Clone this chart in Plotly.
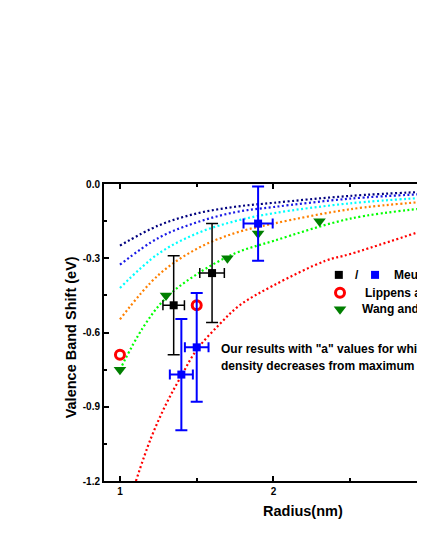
import plotly.graph_objects as go

# ---- data ----
curve_x = [1.0, 1.25, 1.5, 1.75, 2.0, 2.5, 3.0]
navy_y = [-0.249, -0.168, -0.119, -0.092, -0.076, -0.048, -0.031]
blue_y = [-0.326, -0.218, -0.155, -0.114, -0.093, -0.059, -0.040]
cyan_y = [-0.42, -0.282, -0.200, -0.150, -0.118, -0.078, -0.055]
orange_y = [-0.547, -0.368, -0.262, -0.198, -0.160, -0.102, -0.071]
green_x = [1.0, 1.15, 1.3, 1.5, 1.75, 2.0, 2.5, 3.0]
green_y = [-0.75, -0.58, -0.46, -0.365, -0.28, -0.23, -0.14, -0.097]
red_x = [1.104, 1.2, 1.3, 1.4, 1.5, 1.65, 1.78, 2.0, 2.34, 2.5, 3.0]
red_y = [-1.2, -1.03, -0.89, -0.775, -0.67, -0.566, -0.49, -0.41, -0.31, -0.283, -0.183]

black_x = [1.35, 1.6]
black_y = [-0.49, -0.36]
black_ey = [0.2, 0.2]
black_ex = [0.07, 0.08]

blue_x = [1.4, 1.5, 1.9]
blue_pts_y = [-0.77, -0.66, -0.16]
blue_ey = [0.225, 0.22, 0.15]
blue_ex = [0.075, 0.077, 0.095]

lippens_x = [1.0, 1.5]
lippens_y = [-0.69, -0.49]

wang_x = [1.0, 1.3, 1.7, 1.9, 2.3]
wang_y = [-0.75, -0.45, -0.30, -0.20, -0.15]

legend_labels = ["Meulenkamp", "Lippens and Weller", "Wang and Herron"]
y_ticks = [0.0, -0.3, -0.6, -0.9, -1.2]
y_ticktext = ["0.0", "-0.3", "-0.6", "-0.9", "-1.2"]
x_ticks = [1, 2, 3]

FONT = "Liberation Sans, Arial, sans-serif"

fig = go.Figure()

dash = "2px,2.5px"
for ys, col in [(navy_y, "#00007F"), (blue_y, "#1A1AE6"), (cyan_y, "#00FFFF"),
                (orange_y, "#FF8000")]:
    fig.add_trace(go.Scatter(x=curve_x, y=ys, mode="lines",
                             line=dict(color=col, width=2.2, dash=dash, shape="spline"),
                             showlegend=False, hoverinfo="skip"))
fig.add_trace(go.Scatter(x=green_x, y=green_y, mode="lines",
                         line=dict(color="#00FF00", width=2.2, dash=dash, shape="spline"),
                         showlegend=False))
fig.add_trace(go.Scatter(x=red_x, y=red_y, mode="lines",
                         line=dict(color="#FF0000", width=2.2, dash=dash, shape="spline"),
                         showlegend=False))

# Wang and Herron
fig.add_trace(go.Scatter(x=wang_x, y=wang_y, mode="markers",
                         marker=dict(symbol="triangle-down", size=11, color="#007F00"),
                         showlegend=False))
# Lippens
fig.add_trace(go.Scatter(x=lippens_x, y=lippens_y, mode="markers",
                         marker=dict(symbol="circle-open", size=9, color="#FF0000",
                                     line=dict(width=3, color="#FF0000")),
                         showlegend=False))
# black
fig.add_trace(go.Scatter(x=black_x, y=black_y, mode="markers",
                         marker=dict(symbol="square", size=8, color="black"),
                         error_y=dict(type="data", array=black_ey, color="black", thickness=1.5, width=6),
                         error_x=dict(type="data", array=black_ex, color="black", thickness=1.5, width=5),
                         showlegend=False))
# blue
fig.add_trace(go.Scatter(x=blue_x, y=blue_pts_y, mode="markers",
                         marker=dict(symbol="square", size=8, color="#0000FF"),
                         error_y=dict(type="data", array=blue_ey, color="#0000FF", thickness=2, width=6),
                         error_x=dict(type="data", array=blue_ex, color="#0000FF", thickness=2, width=5),
                         showlegend=False))

# legend markers on overlay axis
fig.add_trace(go.Scatter(x=[0.590], y=[0.694], xaxis="x2", yaxis="y2", mode="markers",
                         marker=dict(symbol="square", size=8, color="black"), showlegend=False))
fig.add_trace(go.Scatter(x=[0.681], y=[0.694], xaxis="x2", yaxis="y2", mode="markers",
                         marker=dict(symbol="square", size=8, color="#0000FF"), showlegend=False))
fig.add_trace(go.Scatter(x=[0.593], y=[0.634], xaxis="x2", yaxis="y2", mode="markers",
                         marker=dict(symbol="circle-open", size=9, color="#FF0000",
                                     line=dict(width=3, color="#FF0000")), showlegend=False))
fig.add_trace(go.Scatter(x=[0.593], y=[0.578], xaxis="x2", yaxis="y2", mode="markers",
                         marker=dict(symbol="triangle-down", size=11, color="#007F00"), showlegend=False))

annos = [
    dict(x=0.636, y=0.694, text="/", xanchor="center"),
    dict(x=0.723, y=0.694, text=legend_labels[0], xanchor="left"),
    dict(x=0.651, y=0.634, text=legend_labels[1], xanchor="left"),
    dict(x=0.643, y=0.578, text=legend_labels[2], xanchor="left"),
    dict(x=0.289, y=0.443, text='Our results with "a" values for which the', xanchor="left"),
    dict(x=0.289, y=0.388, text="density decreases from maximum to zero", xanchor="left"),
]
annotations = []
for a in annos:
    annotations.append(dict(xref="paper", yref="paper", x=a["x"], y=a["y"], text=a["text"],
                            xanchor=a["xanchor"], yanchor="middle", showarrow=False,
                            font=dict(family=FONT, size=12, color="black", weight="bold")))
annotations.append(dict(xref="paper", yref="paper", x=0.5, y=-0.101, text="Radius(nm)",
                        xanchor="center", yanchor="middle", showarrow=False,
                        font=dict(family=FONT, size=14.5, color="black", weight="bold")))
annotations.append(dict(xref="paper", yref="paper", x=-0.082, y=0.485, text="Valence Band Shift (eV)",
                        textangle=-90, xanchor="center", yanchor="middle", showarrow=False,
                        font=dict(family=FONT, size=14.5, color="black", weight="bold")))

axis_common = dict(showline=True, linecolor="black", linewidth=2, mirror="allticks",
                   ticks="inside", tickcolor="black", tickwidth=1.5, ticklen=5,
                   showgrid=False, zeroline=False,
                   tickfont=dict(family=FONT, size=10, color="black", weight="bold"))

fig.update_layout(
    width=520, height=534,
    margin=dict(l=96, r=26, t=176, b=61),
    paper_bgcolor="white", plot_bgcolor="white",
    showlegend=False,
    xaxis=dict(range=[0.896, 3.489], tickvals=x_ticks, ticktext=[str(v) for v in x_ticks],
               minor=dict(tickvals=[1.5, 2.5], ticklen=3, tickcolor="black", tickwidth=1.5, ticks="inside"),
               **axis_common),
    yaxis=dict(range=[-1.2, 0.0], tickvals=y_ticks, ticktext=y_ticktext,
               minor=dict(tickvals=[-0.15, -0.45, -0.75, -1.05], ticklen=3, tickcolor="black",
                          tickwidth=1.5, ticks="inside"),
               **axis_common),
    xaxis2=dict(range=[0, 1], overlaying="x", visible=False, domain=[0, 1]),
    yaxis2=dict(range=[0, 1], overlaying="y", visible=False),
    annotations=annotations,
)

fig.write_html("out.html",
               post_script="document.documentElement.style.overflow='hidden';"
                           "document.body.style.overflow='hidden';")
